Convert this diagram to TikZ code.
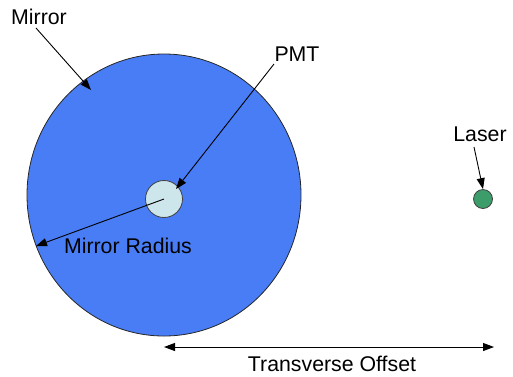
\documentclass[tikz,border=0pt]{standalone}
\usepackage{fontspec}
\setmainfont{Liberation Sans}
\usetikzlibrary{arrows.meta,shapes.geometric}
\definecolor{mirrorblue}{RGB}{72,125,246}
\definecolor{pmtfill}{RGB}{204,230,235}
\definecolor{laserfill}{RGB}{60,156,106}
\tikzset{
  lbl/.style={font=\fontsize{21.3}{25}\selectfont, inner sep=0pt},
  ptr/.style={draw=black, line width=0.9pt, -{Triangle[length=11pt,width=8pt]}},
  dptr/.style={draw=black, line width=0.9pt, {Triangle[length=11pt,width=8pt]}-{Triangle[length=11pt,width=8pt]}},
}
\begin{document}
\begin{tikzpicture}[x=1pt,y=-1pt]
\useasboundingbox (0,0) rectangle (513,376);
% mirror disc, photomultiplier and laser spot
\node[ellipse, draw=black!85, line width=0.8pt, fill=mirrorblue,
      minimum width=274pt, minimum height=282pt, inner sep=0pt] (mirror) at (164,195) {};
\node[circle, draw=black!75, line width=0.8pt, fill=pmtfill,
      minimum size=37pt, inner sep=0pt] (pmt) at (164,199) {};
\node[circle, draw=black!75, line width=0.8pt, fill=laserfill,
      minimum size=19pt, inner sep=0pt] (laser) at (483,199) {};
% labels
\node[lbl] (mirrortext) at (39,17) {Mirror};
\node[lbl] (pmttext) at (297,54) {PMT};
\node[lbl] (radiustext) at (128,246) {Mirror Radius};
\node[lbl] (lasertext) at (480,134) {Laser};
\node[lbl] (offsettext) at (332,364) {Transverse Offset};
% arrow end points
\coordinate (mirrorhit) at (91,90);
\coordinate (mirrortail) at (36,28);
\coordinate (pmttail) at (274,64);
\coordinate (pmthit) at (176,189);
\coordinate (rim) at (36,246);
\coordinate (lasertail) at (474,147);
\coordinate (offA) at (164,347);
\coordinate (offB) at (494,347);
% connectors
\draw[ptr] (mirrortail) -- (mirrorhit);
\draw[ptr] (pmttail) -- (pmthit);
\draw[ptr] (pmt.center) -- (rim);
\draw[ptr] (lasertail) -- (laser.north);
\draw[dptr] (offA) -- (offB);
\end{tikzpicture}
\end{document}
